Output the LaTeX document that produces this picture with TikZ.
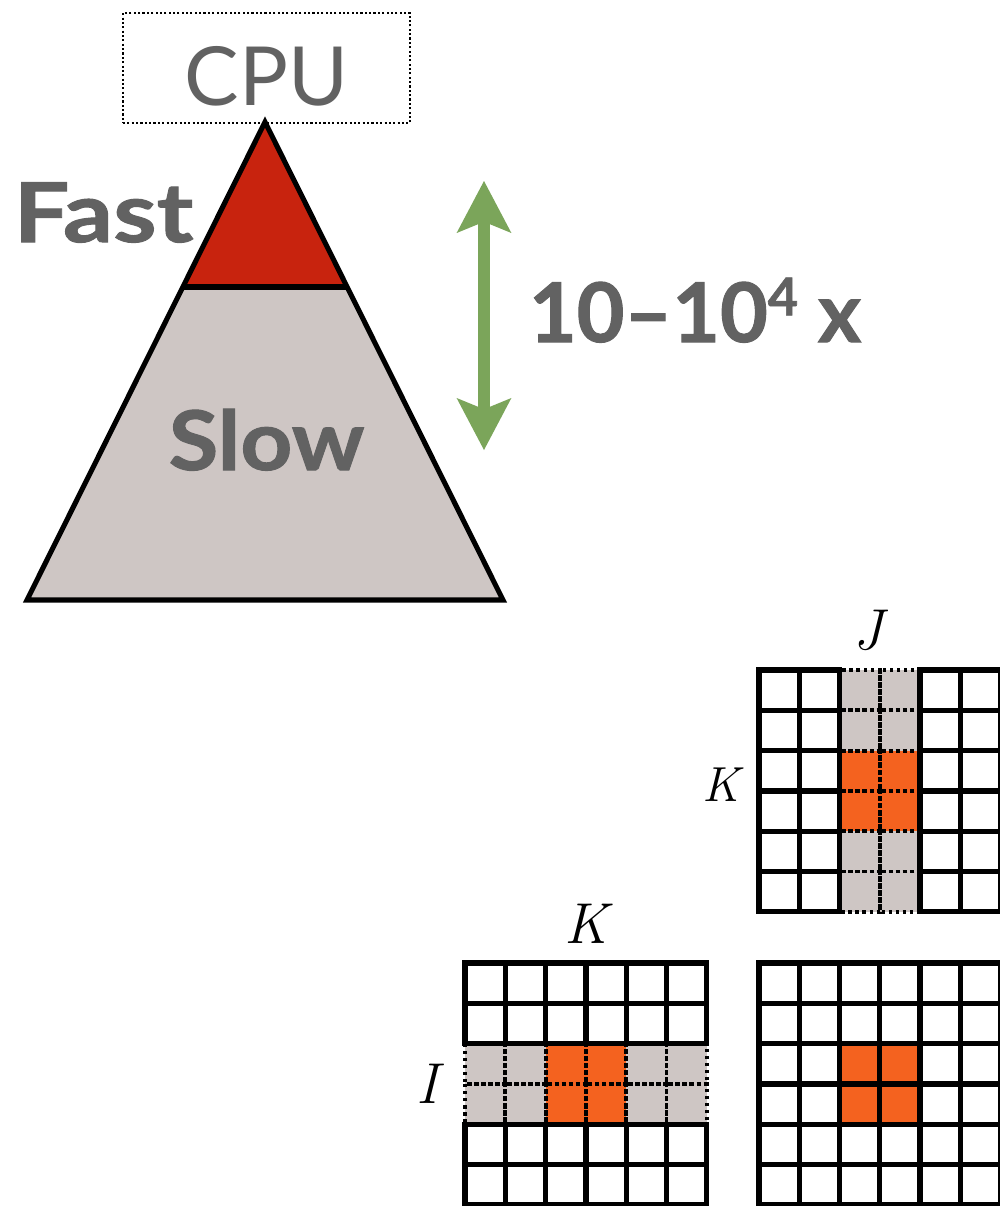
\documentclass[tikz,border=0pt]{standalone}
\usepackage{fontspec}
\setmainfont{Lato}
\newfontfamily\gill{Lato}[FakeStretch=1.1, FakeBold=1.2]
\newfontfamily\gillwide{Lato}[FakeStretch=1.2, FakeBold=1.2]
\newfontfamily\gillnarrow{Lato}[FakeBold=1.2]
\newfontfamily\lmr{Latin Modern Roman}
\usetikzlibrary{arrows.meta}

\definecolor{inkgray}{RGB}{98,98,98}
\definecolor{fastred}{RGB}{200,35,14}
\definecolor{slowgray}{RGB}{206,198,196}
\definecolor{ratiogreen}{RGB}{123,165,90}
\definecolor{tileorange}{RGB}{244,98,31}

\begin{document}
\begin{tikzpicture}[
    x=0.025cm, y=-0.025cm,
    every node/.style={inner sep=0pt},
    word/.style={
        text=inkgray,
        font=\gill\bfseries\fontsize{58.6pt}{60pt}\selectfont
    },
    idx/.style={font=\lmr\itshape\fontsize{41pt}{41pt}\selectfont},
    level/.style={draw=black, line width=3.6pt, line join=miter},
    ratio/.style={
        draw=ratiogreen,
        line width=9pt,
        {Stealth[length=37pt, width=39pt, inset=8pt, line width=0pt]}-{Stealth[length=37pt, width=39pt, inset=8pt, line width=0pt]}
    },
    cell/.style={draw=black, line width=3.8pt},
    dotcell/.style={draw=black, line width=2.8pt, dash pattern=on 2.5pt off 2.5pt}
]
    \useasboundingbox (0,0) rectangle (1000,1206);

    % CPU
    \node[
        draw=black,
        line width=1.3pt,
        dash pattern=on 1.5pt off 1.6pt,
        minimum width=7.175cm,
        minimum height=2.75cm
    ] (cpu) at (266.5,68) {};
    \node[
        anchor=base,
        text=inkgray,
        font=\fontsize{58pt}{60pt}\selectfont
    ] (cputext) at (266.5,105) {CPU};

    % Memory pyramid
    \coordinate (apex) at (265,122);
    \coordinate (baseleft) at (27,600);
    \coordinate (baseright) at (503,600);
    \coordinate (cutleft) at (182.8,287);
    \coordinate (cutright) at (347.2,287);
    \fill[slowgray] (apex) -- (baseleft) -- (baseright) -- cycle;
    \fill[fastred] (apex) -- (cutleft) -- (cutright) -- cycle;
    \draw[level] (cutleft) -- (cutright);
    \draw[level] (apex) -- (baseleft) -- (baseright) -- cycle;

    \node[word, anchor=base, font=\gillwide\bfseries\fontsize{58.6pt}{60pt}\selectfont] (fast) at (103.5,242) {Fast};
    \node[word, anchor=base] (slow) at (266.5,470) {Slow};

    % Speed gap
    \coordinate (gaptop) at (484,181);
    \coordinate (gapbottom) at (484,450);
    \draw[ratio] (gaptop) -- (gapbottom);
    \node[word, anchor=base, font=\gillnarrow\bfseries\fontsize{58.6pt}{60pt}\selectfont] (gap) at (695,342) {10–10\raisebox{19pt}{\fontsize{37pt}{37pt}\selectfont 4} x};

    % Tile of B (top right)
    \fill[slowgray] (839.5,670) rectangle (920,912);
    \fill[tileorange] (839.5,750.6) rectangle (920,831.2);
    \foreach \i in {2,3}
        \foreach \j in {0,...,5}
            \draw[dotcell] (759+\i*40.25,670+\j*40.3) rectangle ++(40.25,40.3);
    \foreach \i in {0,1,4,5}
        \foreach \j in {0,...,5}
            \draw[cell] (759+\i*40.25,670+\j*40.3) rectangle ++(40.25,40.3);
    \node[idx, anchor=base] (jlabel) at (868,649) {J};
    \node[idx, anchor=base, font=\lmr\itshape\fontsize{35pt}{35pt}\selectfont] (kright) at (721,801) {K};

    % Tile of A (bottom left)
    \fill[slowgray] (465,1043.6) rectangle (707,1124.2);
    \fill[tileorange] (545.5,1043.6) rectangle (626,1124.2);
    \foreach \i in {0,...,5}
        \foreach \j in {2,3}
            \draw[dotcell] (465+\i*40.3,963+\j*40.3) rectangle ++(40.3,40.3);
    \foreach \i in {0,...,5}
        \foreach \j in {0,1,4,5}
            \draw[cell] (465+\i*40.3,963+\j*40.3) rectangle ++(40.3,40.3);
    \node[idx, anchor=base] (ktop) at (586,943) {K};
    \node[idx, anchor=base] (ilabel) at (427,1103) {I};

    % Tile of C (bottom right)
    \fill[tileorange] (839.5,1043.6) rectangle (920,1124.2);
    \foreach \i in {0,...,5}
        \foreach \j in {0,...,5}
            \draw[cell] (759+\i*40.25,963+\j*40.3) rectangle ++(40.25,40.3);

\end{tikzpicture}
\end{document}
